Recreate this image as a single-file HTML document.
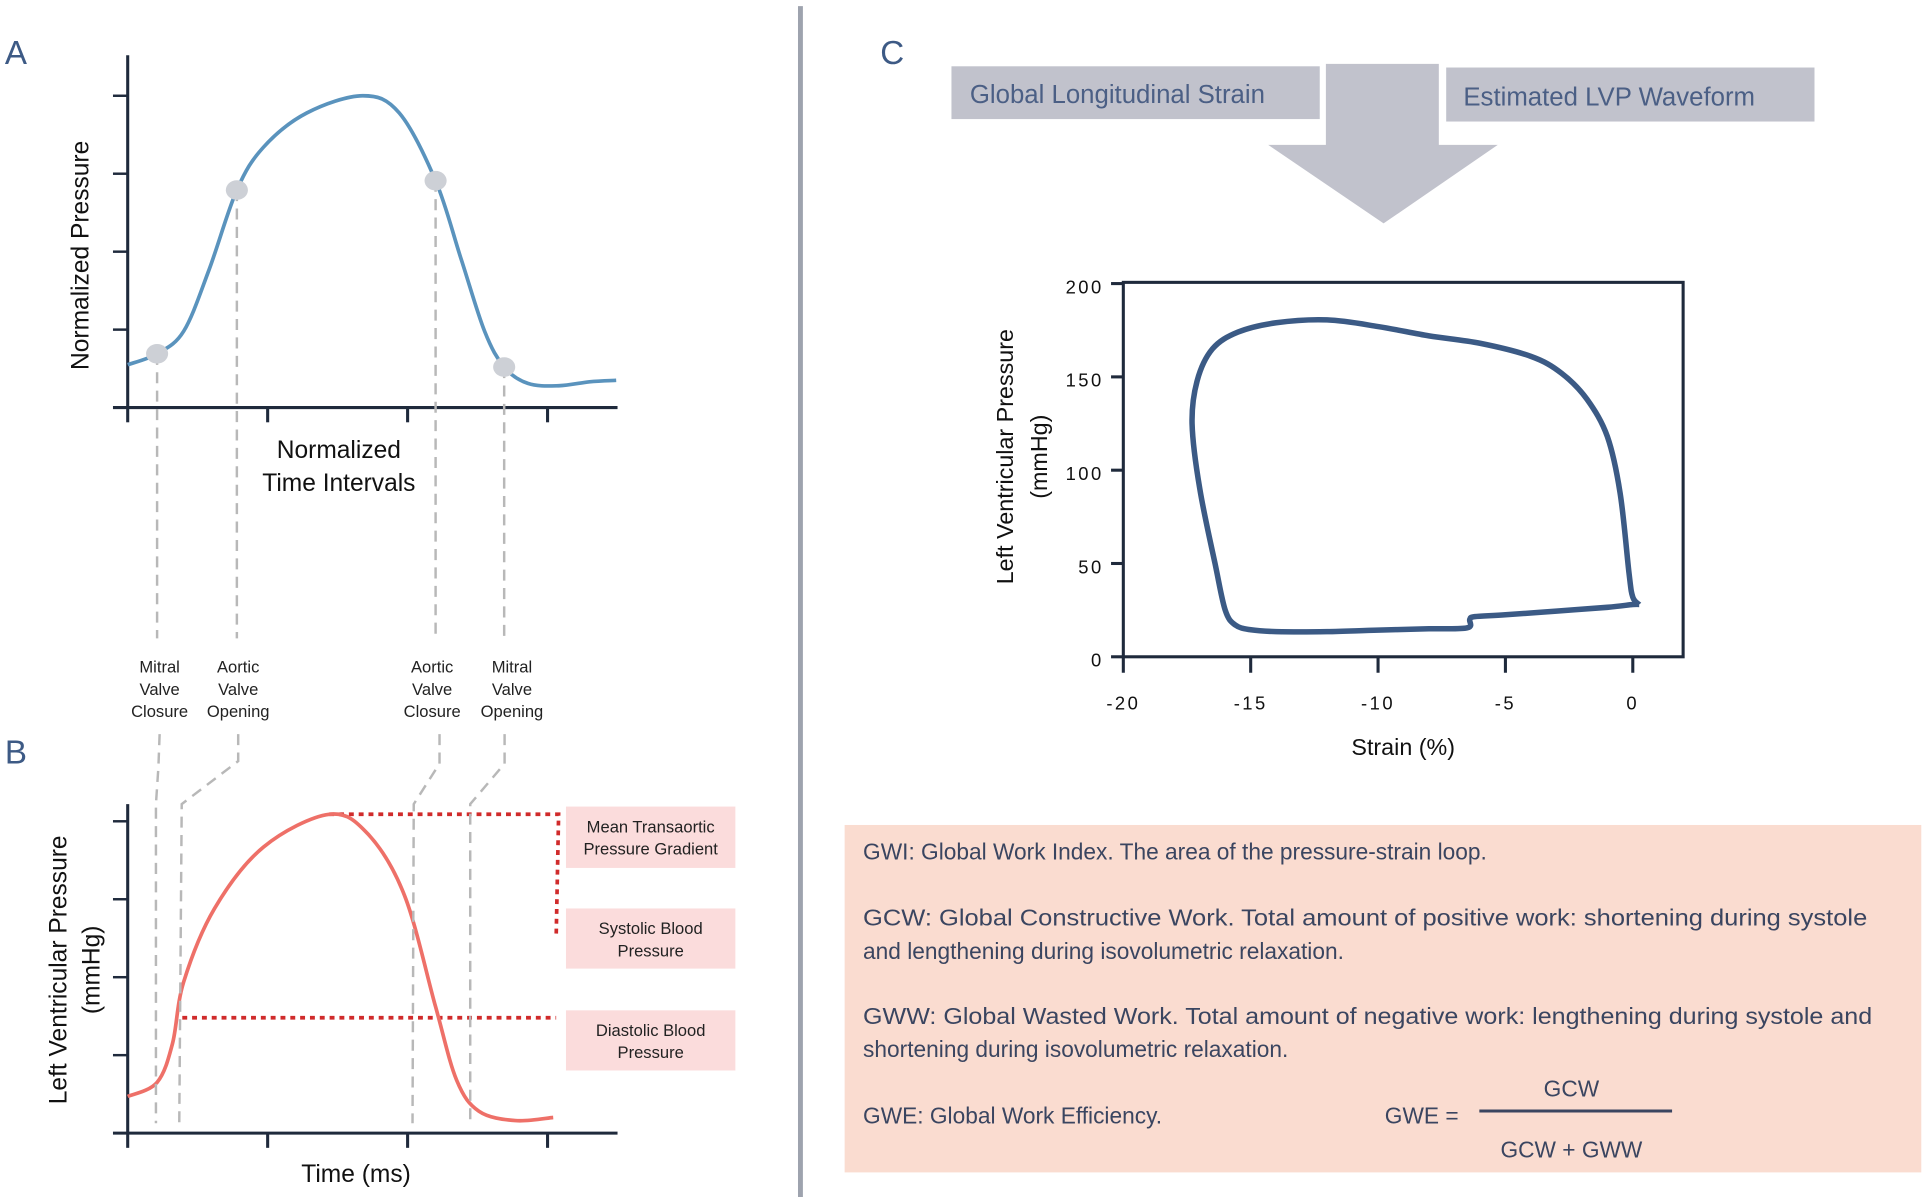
<!DOCTYPE html>
<html><head><meta charset="utf-8"><style>
html,body{margin:0;padding:0;background:#fff;}
svg{display:block;font-family:"Liberation Sans",sans-serif;}
</style></head><body>
<svg id="fig" width="1925" height="1201" viewBox="0 0 1568 978.3" xmlns="http://www.w3.org/2000/svg">
<rect x="0" y="0" width="1568" height="978.3" fill="#fff"/>
<g id="gA"></g>
<g id="gB"></g>
<g id="gC"></g>
<line x1="652" y1="5" x2="652" y2="975" stroke="#9ea3ae" stroke-width="4"/>
<text x="4" y="52" font-size="27" fill="#3d5a85">A</text>
<text x="4" y="622" font-size="27" fill="#3d5a85">B</text>
<text x="717" y="52" font-size="27" fill="#3d5a85">C</text>

<g font-size="13.5" fill="#222" text-anchor="middle">
<text x="130" y="548">Mitral</text><text x="130" y="566">Valve</text><text x="130" y="584">Closure</text>
<text x="194" y="548">Aortic</text><text x="194" y="566">Valve</text><text x="194" y="584">Opening</text>
<text x="352" y="548">Aortic</text><text x="352" y="566">Valve</text><text x="352" y="584">Closure</text>
<text x="417" y="548">Mitral</text><text x="417" y="566">Valve</text><text x="417" y="584">Opening</text>
</g>
<g stroke="#b8b8b8" stroke-width="2" stroke-dasharray="9,6" fill="none">
<polyline points="130,598 129,625 127,655 127,915"/>
<polyline points="194,598 194,620 148,655 146,915"/>
<polyline points="358,598 358,622 337,655 336,915"/>
<polyline points="411,598 411,622 383,655 383,915"/>
</g>

<g font-size="13.5" fill="#222" text-anchor="middle">
<rect x="461" y="657" width="138" height="50" fill="#fbdcdc"/>
<text x="530" y="678">Mean Transaortic</text><text x="530" y="696">Pressure Gradient</text>
<rect x="461" y="740" width="138" height="49" fill="#fbdcdc"/>
<text x="530" y="761">Systolic Blood</text><text x="530" y="779">Pressure</text>
<rect x="461" y="823" width="138" height="49" fill="#fbdcdc"/>
<text x="530" y="844">Diastolic Blood</text><text x="530" y="862">Pressure</text>
</g>

<g>
<rect x="775" y="54" width="300" height="43" fill="#c1c2cc"/>
<text x="790" y="84" font-size="21" fill="#4b5f85">Global Longitudinal Strain</text>
<polygon points="1080,52 1172,52 1172,118 1220,118 1127,182 1033,118 1080,118" fill="#c1c2cc"/>
<rect x="1178" y="55" width="300" height="44" fill="#c1c2cc"/>
<text x="1192" y="86" font-size="21" fill="#4b5f85">Estimated LVP Waveform</text>
</g>

<g font-size="18.5" fill="#3a4560">
<rect x="688" y="672" width="877" height="283" fill="#fadcd0"/>
<text x="703" y="700">GWI: Global Work Index. The area of the pressure-strain loop.</text>
<text x="703" y="754" textLength="818" lengthAdjust="spacingAndGlyphs">GCW: Global Constructive Work. Total amount of positive work: shortening during systole</text>
<text x="703" y="781">and lengthening during isovolumetric relaxation.</text>
<text x="703" y="834" textLength="822" lengthAdjust="spacingAndGlyphs">GWW: Global Wasted Work. Total amount of negative work: lengthening during systole and</text>
<text x="703" y="861">shortening during isovolumetric relaxation.</text>
<text x="703" y="915">GWE: Global Work Efficiency.</text>
<text x="1128" y="915">GWE =</text>
<line x1="1205" y1="905" x2="1362" y2="905" stroke="#3a4560" stroke-width="2.5"/>
<text x="1280" y="893" text-anchor="middle">GCW</text>
<text x="1280" y="943" text-anchor="middle">GCW + GWW</text>
</g>
</svg>
<script>
// Panel A: normalized pressure waveform
const aTime = [0,0.21,0.40,0.58,0.78,0.97,1.28,1.68,1.94,2.20,2.38,2.55,2.69,2.86,3.08,3.30,3.49];
const aPressure = [0.55,0.69,0.98,1.76,2.79,3.34,3.78,4.0,3.78,2.91,1.92,0.98,0.52,0.31,0.28,0.33,0.35];
const aDotIdx = [1,4,9,12];
// Panel B: LV pressure waveform
const bTime = [0,0.21,0.32,0.40,0.62,0.97,1.44,1.72,1.98,2.20,2.35,2.51,2.77,3.04];
const bPressure = [0.47,0.65,1.15,1.94,2.88,3.67,4.09,3.83,3.04,1.62,0.68,0.28,0.16,0.20];
const bPeakLevel = [4.09];
const bDiastolicLevel = [1.48];
const bSystolicLevel = [2.5];
// Panel C: pressure-strain loop
const cStrain = [0.25,0.0,-0.15,-0.5,-1.0,-1.8,-2.8,-4.0,-6,-8,-10,-12,-14,-15.5,-16.5,-17.1,-17.3,-17.0,-16.4,-16.0,-15.6,-15.0,-14,-12,-10,-8,-6.5,-6.4,-6.2,-5,-3,-1,0,0.25];
const cPressure = [28,32,45,88,118,138,152,161,168,172,177,180.5,179,174,165,148,125,90,50,25,17,14.5,13.5,13.5,14.3,15,15.5,20,21.5,22.5,24.5,26.5,28,28];
const cXTicks = [-20,-15,-10,-5,0];
const cYTicks = [0,50,100,150,200];

const NS='http://www.w3.org/2000/svg';
function mk(tag, attrs, parent){const e=document.createElementNS(NS,tag);for(const k in attrs)e.setAttribute(k,attrs[k]);parent.appendChild(e);return e;}
function smooth(pts){let d='M'+pts[0][0]+','+pts[0][1];for(let i=0;i<pts.length-1;i++){const p0=pts[Math.max(0,i-1)],p1=pts[i],p2=pts[i+1],p3=pts[Math.min(pts.length-1,i+2)];const c1=[p1[0]+(p2[0]-p0[0])/6,p1[1]+(p2[1]-p0[1])/6],c2=[p2[0]-(p3[0]-p1[0])/6,p2[1]-(p3[1]-p1[1])/6];d+=' C'+c1[0].toFixed(1)+','+c1[1].toFixed(1)+' '+c2[0].toFixed(1)+','+c2[1].toFixed(1)+' '+p2[0].toFixed(1)+','+p2[1].toFixed(1);}return d;}

function axesAB(g, x0, yBottom, yTop, name){
  const ax=mk('g',{},g);
  
  
  mk('line',{x1:x0,y1:yTop,x2:x0,y2:yBottom,stroke:'#1f2a3c','stroke-width':2.5},ax);
  mk('line',{x1:x0-12,y1:yBottom,x2:503,y2:yBottom,stroke:'#1f2a3c','stroke-width':2.5},ax);
  for(let i=1;i<=4;i++) mk('line',{x1:x0-12,y1:yBottom-i*63.5,x2:x0,y2:yBottom-i*63.5,stroke:'#1f2a3c','stroke-width':2},ax);
  for(let i=0;i<=3;i++) mk('line',{x1:x0+i*114,y1:yBottom,x2:x0+i*114,y2:yBottom+12,stroke:'#1f2a3c','stroke-width':2.5},ax);
}
// Panel A
const gA=document.getElementById('gA');
const axX=t=>104+t*114, aY=v=>332-v*63.5;
axesAB(gA,104,332,45,'panel-a');
[0,1,2,3].forEach(i=>{const idx=aDotIdx[i];const l=mk('line',{x1:axX(aTime[idx]),y1:aY(aPressure[idx]),x2:axX(aTime[idx]),y2:520,stroke:'#b8b8b8','stroke-width':2,'stroke-dasharray':'9,6'},gA);

});
const pA=mk('path',{d:smooth(aTime.map((t,i)=>[axX(t),aY(aPressure[i])])),fill:'none',stroke:'#5a93bd','stroke-width':3},gA);


aDotIdx.forEach(idx=>{const c=mk('ellipse',{cx:axX(aTime[idx]),cy:aY(aPressure[idx]),rx:9,ry:8,fill:'#cdd0d6'},gA);

});
let t=mk('text',{x:0,y:0,'font-size':20,fill:'#111','text-anchor':'middle',transform:'translate(72,208) rotate(-90)'},gA);t.textContent='Normalized Pressure';


t=mk('text',{x:276,y:373,'font-size':20,fill:'#111','text-anchor':'middle'},gA);t.textContent='Normalized';


t=mk('text',{x:276,y:400,'font-size':20,fill:'#111','text-anchor':'middle'},gA);t.textContent='Time Intervals';



// Panel B
const gB=document.getElementById('gB');
const bX=t=>104+t*114, bY=v=>923-v*63.5;
axesAB(gB,104,923,655,'panel-b');
let dl=mk('polyline',{points:`${bX(1.44)},${bY(bPeakLevel[0])} 455,${bY(bPeakLevel[0])} 453,${bY(bSystolicLevel[0])}`,fill:'none',stroke:'#d02b2b','stroke-width':3,'stroke-dasharray':'4,4'},gB);


dl=mk('line',{x1:bX(0.39),y1:bY(bDiastolicLevel[0]),x2:453,y2:bY(bDiastolicLevel[0]),stroke:'#d02b2b','stroke-width':3,'stroke-dasharray':'4,4'},gB);


const pB=mk('path',{d:smooth(bTime.map((t,i)=>[bX(t),bY(bPressure[i])])),fill:'none',stroke:'#ee7068','stroke-width':3},gB);


t=mk('text',{x:0,y:0,'font-size':20,fill:'#111','text-anchor':'middle',transform:'translate(54,790) rotate(-90)'},gB);t.textContent='Left Ventricular Pressure';


t=mk('text',{x:0,y:0,'font-size':20,fill:'#111','text-anchor':'middle',transform:'translate(81,790) rotate(-90)'},gB);t.textContent='(mmHg)';


t=mk('text',{x:290,y:963,'font-size':20,fill:'#111','text-anchor':'middle'},gB);t.textContent='Time (ms)';



// Panel C
const gC=document.getElementById('gC');
const cX=s=>1330+s*20.75, cY=p=>535-p*1.52;
const fr=mk('rect',{x:915,y:230,width:456,height:305,fill:'none',stroke:'#1f2a3c','stroke-width':2.5},gC);


cXTicks.forEach(v=>{mk('line',{x1:cX(v),y1:535,x2:cX(v),y2:548,stroke:'#1f2a3c','stroke-width':2.5},gC);
const l=mk('text',{x:cX(v),y:578,'font-size':15,fill:'#111','text-anchor':'middle','letter-spacing':'2'},gC);l.textContent=v===0?'0':'-'+Math.abs(v);

});
cYTicks.forEach(v=>{mk('line',{x1:905,y1:cY(v),x2:915,y2:cY(v),stroke:'#1f2a3c','stroke-width':2.5},gC);
const l=mk('text',{x:899,y:cY(v)+8,'font-size':15,fill:'#111','text-anchor':'end','letter-spacing':'2'},gC);l.textContent=String(v);

});
const pC=mk('path',{d:smooth(cStrain.map((s,i)=>[cX(s),cY(cPressure[i])])),fill:'none',stroke:'#3b5a85','stroke-width':4.5,'stroke-linejoin':'round'},gC);


t=mk('text',{x:0,y:0,'font-size':19,fill:'#111','text-anchor':'middle',transform:'translate(825,372) rotate(-90)'},gC);t.textContent='Left Ventricular  Pressure';


t=mk('text',{x:0,y:0,'font-size':19,fill:'#111','text-anchor':'middle',transform:'translate(853,372) rotate(-90)'},gC);t.textContent='(mmHg)';


t=mk('text',{x:1143,y:615,'font-size':19,fill:'#111','text-anchor':'middle'},gC);t.textContent='Strain (%)';


</script>
</body></html>
